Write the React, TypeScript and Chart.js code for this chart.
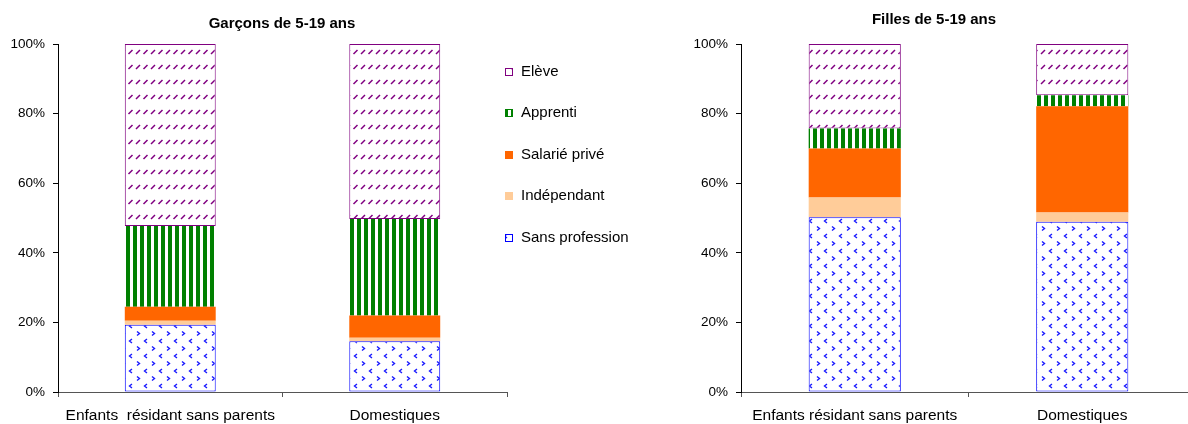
import React, { useEffect, useRef } from 'react';
import { Chart, registerables } from 'chart.js';

Chart.register(...registerables);

const FONT = '"Liberation Sans", Arial, Helvetica, sans-serif';

// Categories and series
const boysCategories = ['Enfants  résidant sans parents', 'Domestiques'];
const girlsCategories = ['Enfants résidant sans parents', 'Domestiques'];
const seriesLabels = ['Sans profession', 'Indépendant', 'Salarié privé', 'Apprenti', 'Elève'];

// Garçons de 5-19 ans (% by category)
const boysSansProfession = [19.3, 14.6];
const boysIndependant = [1.2, 1.0];
const boysSalariePrive = [4.0, 6.4];
const boysApprenti = [23.2, 27.7];
const boysEleve = [52.3, 50.3];

// Filles de 5-19 ans (% by category)
const girlsSansProfession = [50.2, 48.9];
const girlsIndependant = [5.7, 2.7];
const girlsSalariePrive = [14.1, 30.5];
const girlsApprenti = [5.7, 3.2];
const girlsEleve = [24.3, 14.7];

const yTickValues = [0, 20, 40, 60, 80, 100];

type Paint = (g: CanvasRenderingContext2D) => void;

function makePattern(w: number, h: number, paint: Paint): CanvasPattern {
  const c = document.createElement('canvas');
  c.width = w;
  c.height = h;
  const g = c.getContext('2d') as CanvasRenderingContext2D;
  g.fillStyle = '#ffffff';
  g.fillRect(0, 0, w, h);
  paint(g);
  return g.createPattern(c, 'repeat') as CanvasPattern;
}

function buildFills() {
  // blue chevrons
  const chevrons = makePattern(15, 15, (g) => {
    g.strokeStyle = '#1a1aff';
    g.lineWidth = 1.4;
    g.beginPath();
    g.moveTo(2, 1.5); g.lineTo(4.5, 3.5); g.lineTo(2, 5.5);
    g.moveTo(12, 9); g.lineTo(9.5, 11); g.lineTo(12, 13);
    g.stroke();
  });
  // narrow vertical stripes
  const stripes = makePattern(7, 4, (g) => {
    g.fillStyle = '#008000';
    g.fillRect(0, 0, 4, 4);
  });
  // short upward diagonal dashes
  const dashes = makePattern(15, 15, (g) => {
    g.strokeStyle = '#800080';
    g.lineWidth = 1.5;
    g.beginPath();
    g.moveTo(1, 9); g.lineTo(5, 5);
    g.moveTo(8.5, 9); g.lineTo(12.5, 5);
    g.stroke();
  });
  return [
    { fill: chevrons as any, border: '#0000ff', width: 1 },
    { fill: '#ffcc99', border: '#ffcc99', width: 0 },
    { fill: '#ff6600', border: '#ff6600', width: 0 },
    { fill: stripes as any, border: '#008000', width: 0 },
    { fill: dashes as any, border: '#800080', width: 1 },
  ];
}

const headingPlugin = {
  id: 'heading',
  afterDraw(chart: any, _args: any, opts: any) {
    const ctx = chart.ctx as CanvasRenderingContext2D;
    ctx.save();
    ctx.font = `bold 15px ${FONT}`;
    ctx.fillStyle = '#000';
    ctx.textAlign = 'center';
    ctx.textBaseline = 'middle';
    ctx.fillText(opts.text, opts.x, opts.y);
    ctx.restore();
  },
};

const sideLegendPlugin = {
  id: 'sideLegend',
  afterDraw(chart: any, _args: any, opts: any) {
    if (!opts || !opts.show) return;
    const ctx = chart.ctx as CanvasRenderingContext2D;
    const sets = [...chart.data.datasets].reverse();
    ctx.save();
    ctx.font = `15px ${FONT}`;
    ctx.textBaseline = 'middle';
    ctx.textAlign = 'left';
    sets.forEach((ds: any, i: number) => {
      const cy = opts.y + i * opts.step;
      const bx = opts.x;
      const by = Math.round(cy - 4);
      ctx.fillStyle = ds.backgroundColor;
      ctx.fillRect(bx, by, 8, 8);
      ctx.strokeStyle = ds.legendBorder;
      ctx.lineWidth = 1;
      ctx.strokeRect(bx + 0.5, by + 0.5, 7, 7);
      ctx.fillStyle = '#000';
      ctx.fillText(ds.label, bx + 16, cy);
    });
    ctx.restore();
  },
};

interface PanelProps {
  left: number;
  width: number;
  axisWidth: number;
  padRight: number;
  categories: string[];
  series: number[][];
  title: string;
  titleX: number;
  titleY: number;
  legend: boolean;
}

function StackedPanel(p: PanelProps) {
  const ref = useRef<HTMLCanvasElement>(null);

  useEffect(() => {
    const fills = buildFills();
    const datasets = p.series.map((vals, i) => ({
      label: seriesLabels[i],
      data: vals,
      backgroundColor: fills[i].fill,
      borderColor: fills[i].border,
      borderWidth: fills[i].width,
      borderSkipped: false,
      legendBorder: fills[i].border,
      categoryPercentage: 1,
      barPercentage: 0.405,
    }));
    const chart = new Chart(ref.current as HTMLCanvasElement, {
      type: 'bar',
      data: { labels: p.categories, datasets: datasets as any },
      plugins: [headingPlugin, sideLegendPlugin],
      options: {
        animation: false,
        responsive: false,
        devicePixelRatio: 1,
        layout: { padding: { top: 44, right: p.padRight, bottom: 0, left: 0 } },
        plugins: {
          legend: { display: false },
          tooltip: { enabled: false },
          heading: { text: p.title, x: p.titleX, y: p.titleY },
          sideLegend: { show: p.legend, x: 505, y: 71.5, step: 41.5 },
        } as any,
        scales: {
          x: {
            stacked: true,
            offset: true,
            grid: {
              display: true,
              drawOnChartArea: false,
              drawTicks: true,
              tickLength: 5,
              color: '#555',
              offset: true,
            },
            border: { display: true, color: '#555', width: 1 },
            ticks: {
              color: '#000',
              font: { family: FONT, size: 15.5 },
              padding: 9,
              maxRotation: 0,
              autoSkip: false,
            },
            afterFit: (s: any) => {
              s.height = 32;
            },
          },
          y: {
            stacked: true,
            min: yTickValues[0],
            max: yTickValues[yTickValues.length - 1],
            afterBuildTicks: (s: any) => {
              s.ticks = yTickValues.map((v) => ({ value: v }));
            },
            ticks: {
              color: '#000',
              font: { family: FONT, size: 13.5 },
              padding: 8,
              callback: (v: any) => `${v}%`,
            },
            grid: {
              display: true,
              drawOnChartArea: false,
              drawTicks: true,
              tickLength: 5,
              color: '#000',
            },
            border: { display: true, color: '#000', width: 1 },
            afterFit: (s: any) => {
              s.width = p.axisWidth;
            },
          },
        },
      } as any,
    });
    return () => chart.destroy();
  }, []);

  return (
    <div style={{ position: 'absolute', left: p.left, top: 0, width: p.width, height: 424 }}>
      <canvas ref={ref} width={p.width} height={424} style={{ display: 'block' }} />
    </div>
  );
}

export default function App() {
  return (
    <div
      style={{
        position: 'fixed',
        left: 0,
        top: 0,
        width: 1188,
        height: 424,
        overflow: 'hidden',
        background: '#fff',
      }}
    >
      <StackedPanel
        left={0}
        width={660}
        axisWidth={58}
        padRight={153}
        categories={boysCategories}
        series={[boysSansProfession, boysIndependant, boysSalariePrive, boysApprenti, boysEleve]}
        title="Garçons de 5-19 ans"
        titleX={282}
        titleY={24}
        legend={true}
      />
      <StackedPanel
        left={680}
        width={516}
        axisWidth={61}
        padRight={0}
        categories={girlsCategories}
        series={[girlsSansProfession, girlsIndependant, girlsSalariePrive, girlsApprenti, girlsEleve]}
        title="Filles de 5-19 ans"
        titleX={254}
        titleY={20}
        legend={false}
      />
    </div>
  );
}
